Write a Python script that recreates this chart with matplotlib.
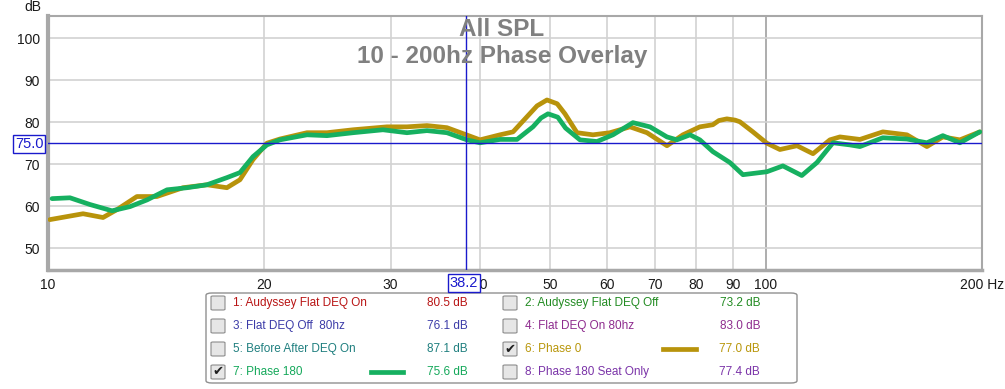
import matplotlib
matplotlib.use("Agg")
import matplotlib.pyplot as plt
from matplotlib.patches import FancyBboxPatch
from matplotlib.lines import Line2D

plt.rcParams['font.family'] = ['Liberation Sans', 'DejaVu Sans']

# Phase 0 (gold)
f0 = [10.06, 11.19, 11.93, 12.48, 13.30, 14.18, 15.42, 16.65, 17.75, 18.51, 19.30,
      20.18, 21.04, 22.95, 24.47, 26.60, 29.66, 31.62, 33.72, 35.95, 37.84, 39.97,
      42.62, 44.44, 46.47, 48.0, 49.55, 51.2, 52.5, 54.56, 57.42, 60.64, 64.66, 68.29,
      72.81, 76.62, 80.91, 84.35, 86.0, 88.23, 90.6, 92.00, 95.92, 100.3, 104.6, 110.5,
      116.3, 122.8, 126.8, 135.2, 145.5, 157.2, 167.6, 176.4, 186.3, 198.6]
db0 = [56.8, 58.2, 57.3, 59.2, 62.3, 62.3, 64.4, 65.1, 64.4, 66.3, 71.1,
       75.0, 76.0, 77.5, 77.5, 78.2, 78.9, 78.9, 79.2, 78.7, 77.3, 75.8,
       77.0, 77.7, 81.3, 83.9, 85.3, 84.4, 82.0, 77.5, 77.0, 77.5, 78.9, 77.5,
       74.4, 77.0, 78.9, 79.4, 80.4, 80.8, 80.5, 80.1, 77.7, 75.0, 73.5, 74.4,
       72.5, 75.8, 76.5, 75.9, 77.7, 77.0, 74.2, 76.5, 75.8, 77.7]

# Phase 180 (green)
f180 = [10.13, 10.73, 11.44, 12.28, 13.01, 13.74, 14.65, 15.62, 16.65, 17.75, 18.51,
        19.30, 20.18, 21.04, 22.95, 24.47, 26.60, 29.28, 31.62, 33.72, 35.95, 38.33,
        39.97, 42.62, 45.01, 47.37, 48.6, 49.71, 51.3, 52.6, 55.08, 58.17, 61.23, 65.28,
        68.94, 72.81, 75.16, 78.40, 80.91, 84.35, 89.09, 92.90, 98.09, 100.3, 105.6,
        112.2, 117.8, 124.0, 130.9, 135.2, 145.5, 157.2, 167.6, 176.4, 186.3, 198.6]
db180 = [61.8, 62.0, 60.4, 58.9, 59.9, 61.5, 63.9, 64.4, 65.1, 66.8, 68.0,
         71.8, 74.6, 75.8, 77.0, 76.8, 77.5, 78.2, 77.5, 78.0, 77.5, 75.8,
         75.1, 75.9, 75.9, 78.9, 81.0, 82.0, 81.2, 78.6, 75.8, 75.4, 77.0, 79.9,
         78.9, 76.5, 75.8, 77.0, 75.8, 73.0, 70.4, 67.5, 68.0, 68.2, 69.6,
         67.3, 70.4, 75.1, 74.6, 74.2, 76.3, 76.0, 75.1, 76.8, 75.1, 77.7]

xticks = [10, 20, 30, 40, 50, 60, 70, 80, 90, 100, 200]
xlabels = ['10', '20', '30', '40', '50', '60', '70', '80', '90', '100', '200 Hz']
yticks = [50, 60, 70, 80, 90, 100]

legend_names = ['1: Audyssey Flat DEQ On', '2: Audyssey Flat DEQ Off',
                '3: Flat DEQ Off  80hz', '4: Flat DEQ On 80hz',
                '5: Before After DEQ On', '6: Phase 0',
                '7: Phase 180', '8: Phase 180 Seat Only']
legend_vals = ['80.5 dB', '73.2 dB', '76.1 dB', '83.0 dB',
               '87.1 dB', '77.0 dB', '75.6 dB', '77.4 dB']
legend_cols = ['#b81414', '#228b22', '#3c3ca8', '#8e2c8e',
               '#1f7f7f', '#b8960a', '#14a85a', '#7a33a8']
checked = [False, False, False, False, False, True, True, False]

gold = '#b8930b'
green = '#16b060'
cursor_f = 38.2
cursor_db = 75.0

W, H = 1005, 389
fig = plt.figure(figsize=(W / 100, H / 100), dpi=100)
fig.patch.set_facecolor('white')

def fx(x):
    return x / W

def fy(y):
    return 1 - y / H

ax = fig.add_axes([fx(48), fy(270), fx(982) - fx(48), fy(16) - fy(270)])
ax.set_xscale('log')
ax.set_xlim(10, 200)
ax.set_ylim(44.8, 105.3)
ax.set_xticks(xticks)
ax.set_xticklabels(xlabels)
ax.xaxis.set_minor_locator(matplotlib.ticker.NullLocator())
ax.set_yticks(yticks)
ax.tick_params(length=0, labelsize=10, labelcolor='#1a1a1a', pad=6)

for x in xticks:
    ax.axvline(x, color='#a0a0a0' if x == 100 else '#d2d2d2', lw=1.2, zorder=0)
for y in yticks:
    ax.axhline(y, color='#d2d2d2', lw=1.2, zorder=0)

for s in ax.spines.values():
    s.set_color('#a8a8a8')
    s.set_linewidth(1.5)
ax.spines['left'].set_linewidth(3)
ax.spines['bottom'].set_linewidth(2.5)

ax.plot(f0, db0, color=gold, lw=3.4, solid_capstyle='round',
        solid_joinstyle='round', zorder=3)
ax.plot(f180, db180, color=green, lw=3.4, solid_capstyle='round',
        solid_joinstyle='round', zorder=4)

ax.axvline(cursor_f, color='#1a1acc', lw=1, zorder=5)
ax.axhline(cursor_db, color='#1a1acc', lw=1, zorder=5)

fig.text(fx(502), fy(30), 'All SPL', ha='center', va='center',
         fontsize=17.5, fontweight='bold', color='#808080', zorder=6)
fig.text(fx(502), fy(57), '10 - 200hz Phase Overlay', ha='center',
         va='center', fontsize=17.5, fontweight='bold', color='#808080', zorder=6)

fig.text(fx(33), fy(7), 'dB', ha='center', va='center', fontsize=10, color='#1a1a1a')

box = dict(boxstyle='square,pad=0.15', facecolor='white', edgecolor='#1a1acc', lw=1)
fig.text(fx(29), fy(144), '75.0', ha='center', va='center', fontsize=10.5,
         color='#1a1acc', bbox=box, zorder=10)
fig.text(fx(464), fy(283), '38.2', ha='center', va='center', fontsize=10.5,
         color='#1a1acc', bbox=box, zorder=10)

# legend panel
lg = FancyBboxPatch((fx(206), fy(383)), fx(797) - fx(206), fy(293) - fy(383),
                    boxstyle='round,pad=0,rounding_size=0.006',
                    transform=fig.transFigure, facecolor='white',
                    edgecolor='#909090', lw=1)
fig.patches.append(lg)

rows = [303, 326, 349, 372]
box_x = [218, 510]
for i, name in enumerate(legend_names):
    col = i % 2
    r = rows[i // 2]
    cx = box_x[col]
    cb = FancyBboxPatch((fx(cx - 7), fy(r + 7)), fx(14), fy(r - 7) - fy(r + 7),
                        boxstyle='round,pad=0,rounding_size=0.002',
                        transform=fig.transFigure, facecolor='#e6e6e6',
                        edgecolor='#8c8c8c', lw=0.8)
    fig.patches.append(cb)
    if checked[i]:
        fig.text(fx(cx), fy(r), '\u2714', ha='center', va='center', fontsize=9.5,
                 color='#202020', family='DejaVu Sans')
    fig.text(fx(cx + 15), fy(r), name, ha='left', va='center', fontsize=8.5,
             color=legend_cols[i])
    fig.text(fx(cx + 250), fy(r), legend_vals[i], ha='right', va='center',
             fontsize=8.5, color=legend_cols[i])

fig.lines.append(Line2D([fx(371), fx(403)], [fy(372), fy(372)], color=green, lw=3.4,
                        transform=fig.transFigure))
fig.lines.append(Line2D([fx(663), fx(696)], [fy(349), fy(349)], color=gold, lw=3.4,
                        transform=fig.transFigure))

fig.savefig('out.png', dpi=100, facecolor='white')
